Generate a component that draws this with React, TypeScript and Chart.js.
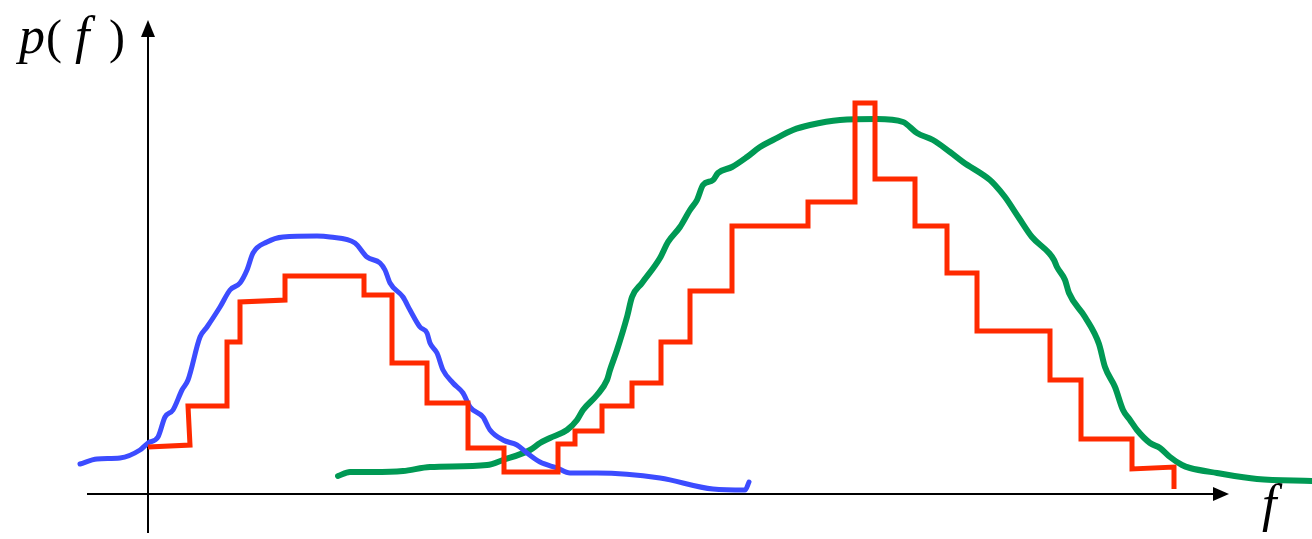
import React, { useEffect, useRef } from "react";
import { Chart, registerables } from "chart.js";

Chart.register(...registerables);

// Units: f measured from the vertical axis, p measured up from the horizontal axis.
const redF = [0, 42, 40, 79, 79, 92, 92, 137, 137, 216, 216, 244, 244, 279, 279, 320, 320, 356, 356, 410, 410, 427, 427, 454, 454, 484, 484, 513, 513, 542, 542, 584, 584, 660, 660, 707, 707, 727, 727, 767, 767, 799, 799, 829, 829, 902, 902, 933, 933, 984, 984, 1026, 1026];
const redP = [47, 49, 88, 88, 152, 152, 192, 194, 218, 218, 199, 199, 131, 131, 91, 91, 46, 46, 22, 22, 50, 50, 63, 63, 88, 88, 111, 111, 152, 152, 203, 203, 268, 268, 292, 292, 391, 391, 315, 315, 268, 268, 221, 221, 163, 163, 114, 114, 55, 55, 25, 27, 5];

const blueF = [-68, -51, -28, -8, 0, 10, 17, 25, 34, 40, 52, 59, 72, 82, 92, 99, 105, 119, 135, 169, 182, 207, 219, 232, 237, 242, 255, 262, 272, 279, 282, 289, 295, 305, 315, 322, 335, 342, 355, 369, 379, 392, 409, 422, 449, 512, 565, 597, 601];
const blueP = [30, 35, 36, 44, 51, 57, 77, 84, 104, 114, 157, 167, 187, 204, 211, 224, 241, 252, 257, 258, 257, 251, 237, 231, 224, 211, 197, 184, 167, 161, 151, 141, 124, 111, 101, 87, 77, 64, 54, 49, 41, 32, 26, 21, 21, 16, 5, 4, 12];

const greenF = [190, 202, 225, 255, 282, 339, 355, 382, 392, 402, 419, 429, 435, 449, 459, 462, 469, 479, 484, 494, 512, 520, 532, 542, 549, 555, 565, 570, 584, 599, 612, 625, 645, 662, 692, 729, 755, 769, 785, 802, 815, 842, 847, 857, 871, 884, 901, 906, 909, 917, 921, 937, 951, 957, 967, 975, 982, 989, 1002, 1012, 1022, 1034, 1042, 1069, 1109, 1164];
const greenP = [18, 22, 22, 23, 27, 29, 34, 44, 51, 56, 64, 74, 84, 99, 114, 124, 144, 177, 197, 211, 236, 252, 267, 284, 294, 309, 314, 321, 327, 337, 347, 354, 364, 369, 374, 375, 372, 361, 354, 342, 332, 314, 309, 297, 276, 257, 241, 234, 227, 214, 201, 177, 150, 127, 107, 84, 74, 64, 51, 46, 37, 29, 26, 21, 15, 13];

const yAxisLabel = ["p", "(", "f", ")"];
const xAxisLabel = "f";

const toPts = (xs: number[], ys: number[]) => xs.map((x, i) => ({ x, y: ys[i] }));

const axesPlugin = {
  id: "axesArrows",
  beforeDatasetsDraw(chart: any) {
    const { ctx, scales } = chart;
    const xs = scales.x;
    const ys = scales.y;
    const x0 = xs.getPixelForValue(0);
    const y0 = ys.getPixelForValue(0);
    ctx.save();
    ctx.strokeStyle = "#000";
    ctx.fillStyle = "#000";
    ctx.lineWidth = 2;
    const yTop = ys.getPixelForValue(474);
    const yBot = ys.getPixelForValue(-39);
    ctx.beginPath();
    ctx.moveTo(x0, yBot);
    ctx.lineTo(x0, yTop + 12);
    ctx.stroke();
    ctx.beginPath();
    ctx.moveTo(x0, yTop);
    ctx.lineTo(x0 - 7, yTop + 17);
    ctx.lineTo(x0 + 7, yTop + 17);
    ctx.closePath();
    ctx.fill();
    const xL = xs.getPixelForValue(-61);
    const xR = xs.getPixelForValue(1081);
    ctx.beginPath();
    ctx.moveTo(xL, y0);
    ctx.lineTo(xR - 12, y0);
    ctx.stroke();
    ctx.beginPath();
    ctx.moveTo(xR, y0);
    ctx.lineTo(xR - 16, y0 - 7);
    ctx.lineTo(xR - 16, y0 + 7);
    ctx.closePath();
    ctx.fill();
    ctx.restore();
  },
};

const serif = "'Liberation Serif', 'Times New Roman', Tinos, serif";
const glyph = (left: number, top: number, size: number, italic: boolean): React.CSSProperties => ({
  position: "absolute",
  left,
  top,
  fontFamily: serif,
  fontSize: size,
  fontStyle: italic ? "italic" : "normal",
  lineHeight: `${size}px`,
  whiteSpace: "nowrap",
  color: "#000",
});

export default function App() {
  const ref = useRef<HTMLCanvasElement | null>(null);
  useEffect(() => {
    if (!ref.current) return;
    const chart = new Chart(ref.current, {
      type: "line",
      data: {
        datasets: [
          {
            data: toPts(redF, redP),
            borderColor: "#ff2a00",
            borderWidth: 5,
            pointRadius: 0,
            tension: 0,
            fill: false,
            borderJoinStyle: "miter",
          },
          {
            data: toPts(blueF, blueP),
            borderColor: "#3c4cff",
            borderWidth: 5,
            pointRadius: 0,
            cubicInterpolationMode: "monotone",
            fill: false,
            borderCapStyle: "round",
            borderJoinStyle: "round",
          },
          {
            data: toPts(greenF, greenP),
            borderColor: "#009954",
            borderWidth: 6,
            pointRadius: 0,
            cubicInterpolationMode: "monotone",
            fill: false,
            borderCapStyle: "round",
            borderJoinStyle: "round",
          },
        ],
      },
      options: {
        animation: false,
        responsive: false,
        devicePixelRatio: 1,
        layout: { padding: 0 },
        plugins: { legend: { display: false }, tooltip: { enabled: false } },
        scales: {
          x: { type: "linear", min: -148, max: 1164, display: false },
          y: { type: "linear", min: -45, max: 494, display: false },
        },
      },
      plugins: [axesPlugin],
    });
    return () => chart.destroy();
  }, []);
  return (
    <div style={{ position: "fixed", left: 0, top: 0, width: 1312, height: 539, background: "#fff", overflow: "hidden" }}>
      <canvas ref={ref} width={1312} height={539} style={{ position: "absolute", left: 0, top: 0, width: 1312, height: 539 }} />
      <span style={glyph(19, 9.5, 52, true)}>{yAxisLabel[0]}</span>
      <span style={glyph(46, 12.8, 48, false)}>{yAxisLabel[1]}</span>
      <span style={glyph(75, 9.5, 52, true)}>{yAxisLabel[2]}</span>
      <span style={glyph(109, 12.8, 48, false)}>{yAxisLabel[3]}</span>
      <span style={glyph(1262, 477.5, 52, true)}>{xAxisLabel}</span>
    </div>
  );
}
